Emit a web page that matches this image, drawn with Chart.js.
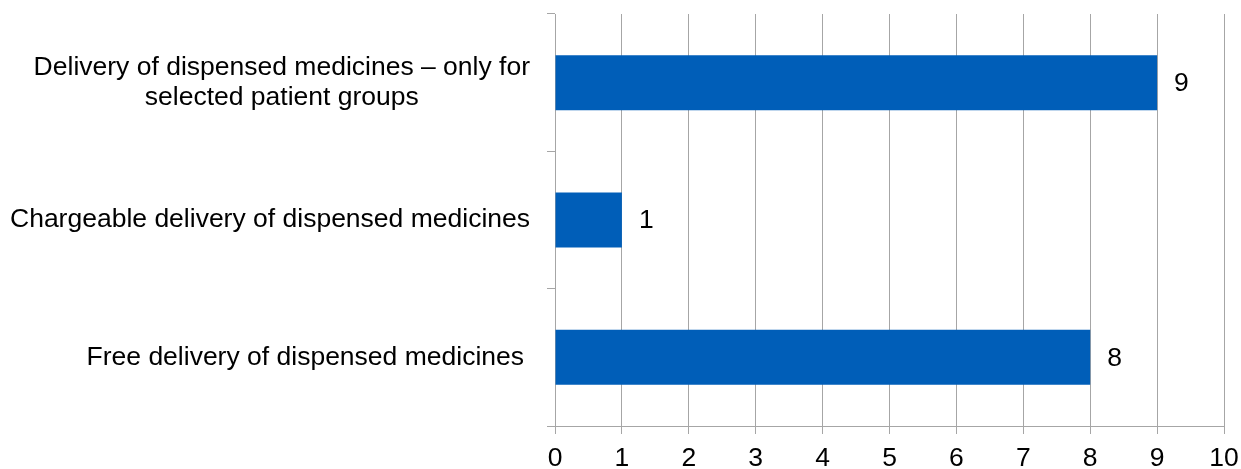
<!DOCTYPE html>
<html>
<head>
<meta charset="utf-8">
<script src="https://cdn.jsdelivr.net/npm/chart.js@4"></script>
<style>
  html, body { margin: 0; padding: 0; background: #fff; overflow: hidden; }
  #wrap { width: 1241px; height: 469px; }
</style>
</head>
<body>
<div id="wrap"><canvas id="chart"></canvas></div>
<script>
// Data
const categories = [
    ['Delivery of dispensed medicines \u2013 only for', 'selected patient groups'],
    'Chargeable delivery of dispensed medicines',
    'Free delivery of dispensed medicines'
];
const values = [9, 1, 8];
const xTicks = [0, 1, 2, 3, 4, 5, 6, 7, 8, 9, 10];

const FONT = '"Liberation Sans", Arial, sans-serif';
const FONT_SIZE = 26.5;
const GRID = '#a6a6a6';

// Draws category labels (single lines right-aligned, wrapped labels centred) and value labels
const labelsPlugin = {
    id: 'labels',
    afterDraw(chart) {
        const ctx = chart.ctx;
        const yScale = chart.scales.y;
        const meta = chart.getDatasetMeta(0);
        ctx.save();
        ctx.font = FONT_SIZE + 'px ' + FONT;
        ctx.fillStyle = '#000';
        ctx.textBaseline = 'middle';

        const rightEdge = yScale.right - 25;
        categories.forEach((cat, i) => {
            const y = yScale.getPixelForValue(i);
            if (Array.isArray(cat)) {
                const lineH = 30;
                const widest = Math.max(...cat.map(t => ctx.measureText(t).width));
                const cx = rightEdge - widest / 2;
                ctx.textAlign = 'center';
                cat.forEach((line, j) => {
                    ctx.fillText(line, cx, y + (j - (cat.length - 1) / 2) * lineH);
                });
            } else {
                ctx.textAlign = 'right';
                ctx.fillText(cat, rightEdge - (i === 2 ? 6 : 0), y);
            }
        });

        ctx.textAlign = 'left';
        meta.data.forEach((bar, i) => {
            ctx.fillText(String(values[i]), bar.x + 17, bar.y + 1);
        });
        ctx.restore();
    }
};

const ctx = document.getElementById('chart').getContext('2d');
new Chart(ctx, {
    type: 'bar',
    data: {
        labels: categories,
        datasets: [{
            data: values,
            backgroundColor: '#005eb8',
            borderWidth: 0,
            barPercentage: 0.4,
            categoryPercentage: 1
        }]
    },
    options: {
        indexAxis: 'y',
        responsive: true,
        maintainAspectRatio: false,
        animation: false,
        layout: { padding: { top: 14, right: 17, bottom: 0, left: 0 } },
        plugins: {
            legend: { display: false },
            tooltip: { enabled: false }
        },
        scales: {
            x: {
                min: 0,
                max: 10,
                afterBuildTicks(scale) {
                    scale.ticks = xTicks.map(v => ({ value: v }));
                },
                afterFit(scale) {
                    scale.height = 43;
                    scale.paddingLeft = 0;
                    scale.paddingRight = 0;
                },
                grid: {
                    color: GRID,
                    lineWidth: 1,
                    drawTicks: true,
                    tickLength: 8
                },
                border: { color: GRID, width: 1 },
                ticks: {
                    color: '#000',
                    padding: 9,
                    font: { family: FONT, size: FONT_SIZE }
                }
            },
            y: {
                offset: true,
                afterFit(scale) { scale.width = 555; },
                grid: {
                    offset: true,
                    drawOnChartArea: false,
                    drawTicks: true,
                    tickLength: 8,
                    color: GRID
                },
                border: { color: GRID, width: 1 },
                ticks: {
                    display: true,
                    color: 'rgba(0,0,0,0)',
                    font: { family: FONT, size: 1 }
                }
            }
        }
    },
    plugins: [labelsPlugin]
});
</script>
</body>
</html>
